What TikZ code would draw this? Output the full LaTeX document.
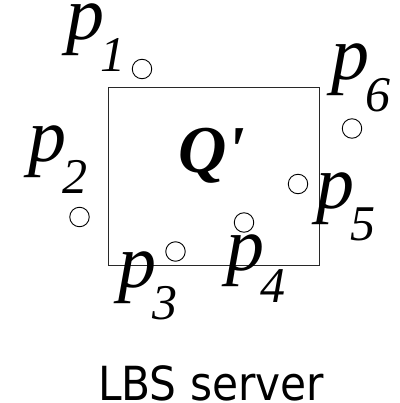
\documentclass[tikz,border=0pt]{standalone}
\usepackage{fontspec}
\setmainfont{Liberation Serif}
\newfontfamily\srvfont{DejaVu Sans Condensed}
\newcommand{\plab}[1]{{\itshape\fontsize{76}{76}\selectfont p}\kern-4pt\raisebox{-32pt}{\itshape\fontsize{50}{50}\selectfont #1}}
\begin{document}
\begin{tikzpicture}[x=1pt,y=-1pt]
			\tikzstyle{every node}=[inner sep=0pt]
			\tikzstyle{obj}=[draw={rgb,255:red,0; green,0; blue,0}, line width=0.9pt, circle, minimum size=19.5pt]
			\tikzstyle{plabel}=[anchor=base west]
			\useasboundingbox [fill=white] (0,0) rectangle (399,403);
			\draw [ color={rgb,255:red,40; green,40; blue,40} , line width=1pt ] (108.5,88) rectangle (319,265);
			\node [anchor=base west, font={\bfseries\itshape\fontsize{67}{67}\selectfont}] (q) at (178,172) {Q\textquotesingle};
			\node [obj] (c1) at (142,69) {};
			\node [obj] (c2) at (79.5,217) {};
			\node [obj] (c3) at (175.5,251.5) {};
			\node [obj] (c4) at (244,222.5) {};
			\node [obj] (c5) at (298,184) {};
			\node [obj] (c6) at (352,128.5) {};
			\node [plabel] (p1) at (66,40) {\plab{1}};
			\node [plabel] (p2) at (28,162) {\plab{2}};
			\node [plabel] (p3) at (118,287.5) {\plab{3}};
			\node [plabel] (p4) at (226,270) {\plab{4}};
			\node [plabel] (p5) at (316,208) {\plab{5}};
			\node [plabel] (p6) at (331,80) {\plab{6}};
			\node [anchor=base, font={\srvfont\fontsize{47}{47}\selectfont}] (srv) at (211,400) {LBS server};
		\end{tikzpicture}
\end{document}
